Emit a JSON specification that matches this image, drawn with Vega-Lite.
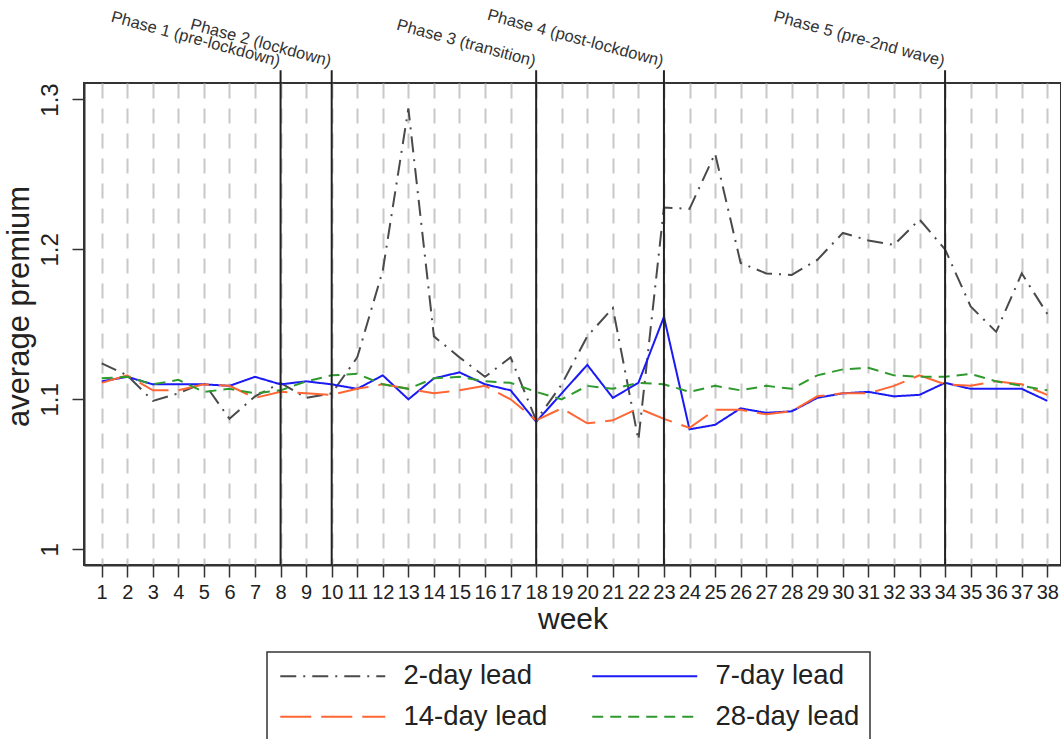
{
  "$schema": "https://vega.github.io/schema/vega-lite/v6.json",
  "width": 977,
  "height": 482,
  "autosize": {"type": "none"},
  "padding": {"left": 84, "top": 83, "right": 0, "bottom": 174},
  "background": "white",
  "config": {
    "font": "Liberation Sans",
    "view": {"stroke": "#333", "strokeWidth": 2},
    "legend": {"strokeWidth": 1.5}
  },
  "datasets": {
    "phases": [
      {"week": 8, "label": "Phase 1 (pre-lockdown)"},
      {"week": 10, "label": "Phase 2 (lockdown)"},
      {"week": 18, "label": "Phase 3 (transition)"},
      {"week": 23, "label": "Phase 4 (post-lockdown)"},
      {"week": 34, "label": "Phase 5 (pre-2nd wave)"}
    ],
    "series": [
      {"week": 1, "lead": "2-day lead", "premium": 1.124},
      {"week": 2, "lead": "2-day lead", "premium": 1.116},
      {"week": 3, "lead": "2-day lead", "premium": 1.099},
      {"week": 4, "lead": "2-day lead", "premium": 1.104},
      {"week": 5, "lead": "2-day lead", "premium": 1.111},
      {"week": 6, "lead": "2-day lead", "premium": 1.087},
      {"week": 7, "lead": "2-day lead", "premium": 1.102},
      {"week": 8, "lead": "2-day lead", "premium": 1.111},
      {"week": 9, "lead": "2-day lead", "premium": 1.101},
      {"week": 10, "lead": "2-day lead", "premium": 1.104},
      {"week": 11, "lead": "2-day lead", "premium": 1.128},
      {"week": 12, "lead": "2-day lead", "premium": 1.186},
      {"week": 13, "lead": "2-day lead", "premium": 1.294},
      {"week": 14, "lead": "2-day lead", "premium": 1.142},
      {"week": 15, "lead": "2-day lead", "premium": 1.128},
      {"week": 16, "lead": "2-day lead", "premium": 1.115},
      {"week": 17, "lead": "2-day lead", "premium": 1.128},
      {"week": 18, "lead": "2-day lead", "premium": 1.086},
      {"week": 19, "lead": "2-day lead", "premium": 1.110},
      {"week": 20, "lead": "2-day lead", "premium": 1.142},
      {"week": 21, "lead": "2-day lead", "premium": 1.161},
      {"week": 22, "lead": "2-day lead", "premium": 1.073},
      {"week": 23, "lead": "2-day lead", "premium": 1.228},
      {"week": 24, "lead": "2-day lead", "premium": 1.227},
      {"week": 25, "lead": "2-day lead", "premium": 1.264},
      {"week": 26, "lead": "2-day lead", "premium": 1.191},
      {"week": 27, "lead": "2-day lead", "premium": 1.184},
      {"week": 28, "lead": "2-day lead", "premium": 1.183},
      {"week": 29, "lead": "2-day lead", "premium": 1.193},
      {"week": 30, "lead": "2-day lead", "premium": 1.211},
      {"week": 31, "lead": "2-day lead", "premium": 1.206},
      {"week": 32, "lead": "2-day lead", "premium": 1.203},
      {"week": 33, "lead": "2-day lead", "premium": 1.220},
      {"week": 34, "lead": "2-day lead", "premium": 1.200},
      {"week": 35, "lead": "2-day lead", "premium": 1.162},
      {"week": 36, "lead": "2-day lead", "premium": 1.145},
      {"week": 37, "lead": "2-day lead", "premium": 1.184},
      {"week": 38, "lead": "2-day lead", "premium": 1.157},
      {"week": 1, "lead": "7-day lead", "premium": 1.112},
      {"week": 2, "lead": "7-day lead", "premium": 1.115},
      {"week": 3, "lead": "7-day lead", "premium": 1.110},
      {"week": 4, "lead": "7-day lead", "premium": 1.110},
      {"week": 5, "lead": "7-day lead", "premium": 1.110},
      {"week": 6, "lead": "7-day lead", "premium": 1.109},
      {"week": 7, "lead": "7-day lead", "premium": 1.115},
      {"week": 8, "lead": "7-day lead", "premium": 1.110},
      {"week": 9, "lead": "7-day lead", "premium": 1.112},
      {"week": 10, "lead": "7-day lead", "premium": 1.110},
      {"week": 11, "lead": "7-day lead", "premium": 1.107},
      {"week": 12, "lead": "7-day lead", "premium": 1.116},
      {"week": 13, "lead": "7-day lead", "premium": 1.100},
      {"week": 14, "lead": "7-day lead", "premium": 1.114},
      {"week": 15, "lead": "7-day lead", "premium": 1.118},
      {"week": 16, "lead": "7-day lead", "premium": 1.110},
      {"week": 17, "lead": "7-day lead", "premium": 1.106},
      {"week": 18, "lead": "7-day lead", "premium": 1.085},
      {"week": 19, "lead": "7-day lead", "premium": 1.104},
      {"week": 20, "lead": "7-day lead", "premium": 1.123},
      {"week": 21, "lead": "7-day lead", "premium": 1.101},
      {"week": 22, "lead": "7-day lead", "premium": 1.111},
      {"week": 23, "lead": "7-day lead", "premium": 1.155},
      {"week": 24, "lead": "7-day lead", "premium": 1.080},
      {"week": 25, "lead": "7-day lead", "premium": 1.083},
      {"week": 26, "lead": "7-day lead", "premium": 1.094},
      {"week": 27, "lead": "7-day lead", "premium": 1.091},
      {"week": 28, "lead": "7-day lead", "premium": 1.092},
      {"week": 29, "lead": "7-day lead", "premium": 1.101},
      {"week": 30, "lead": "7-day lead", "premium": 1.104},
      {"week": 31, "lead": "7-day lead", "premium": 1.105},
      {"week": 32, "lead": "7-day lead", "premium": 1.102},
      {"week": 33, "lead": "7-day lead", "premium": 1.103},
      {"week": 34, "lead": "7-day lead", "premium": 1.111},
      {"week": 35, "lead": "7-day lead", "premium": 1.107},
      {"week": 36, "lead": "7-day lead", "premium": 1.107},
      {"week": 37, "lead": "7-day lead", "premium": 1.107},
      {"week": 38, "lead": "7-day lead", "premium": 1.099},
      {"week": 1, "lead": "14-day lead", "premium": 1.111},
      {"week": 2, "lead": "14-day lead", "premium": 1.116},
      {"week": 3, "lead": "14-day lead", "premium": 1.106},
      {"week": 4, "lead": "14-day lead", "premium": 1.106},
      {"week": 5, "lead": "14-day lead", "premium": 1.110},
      {"week": 6, "lead": "14-day lead", "premium": 1.109},
      {"week": 7, "lead": "14-day lead", "premium": 1.101},
      {"week": 8, "lead": "14-day lead", "premium": 1.105},
      {"week": 9, "lead": "14-day lead", "premium": 1.104},
      {"week": 10, "lead": "14-day lead", "premium": 1.103},
      {"week": 11, "lead": "14-day lead", "premium": 1.107},
      {"week": 12, "lead": "14-day lead", "premium": 1.110},
      {"week": 13, "lead": "14-day lead", "premium": 1.107},
      {"week": 14, "lead": "14-day lead", "premium": 1.104},
      {"week": 15, "lead": "14-day lead", "premium": 1.106},
      {"week": 16, "lead": "14-day lead", "premium": 1.109},
      {"week": 17, "lead": "14-day lead", "premium": 1.100},
      {"week": 18, "lead": "14-day lead", "premium": 1.086},
      {"week": 19, "lead": "14-day lead", "premium": 1.094},
      {"week": 20, "lead": "14-day lead", "premium": 1.084},
      {"week": 21, "lead": "14-day lead", "premium": 1.086},
      {"week": 22, "lead": "14-day lead", "premium": 1.094},
      {"week": 23, "lead": "14-day lead", "premium": 1.087},
      {"week": 24, "lead": "14-day lead", "premium": 1.081},
      {"week": 25, "lead": "14-day lead", "premium": 1.093},
      {"week": 26, "lead": "14-day lead", "premium": 1.093},
      {"week": 27, "lead": "14-day lead", "premium": 1.090},
      {"week": 28, "lead": "14-day lead", "premium": 1.092},
      {"week": 29, "lead": "14-day lead", "premium": 1.102},
      {"week": 30, "lead": "14-day lead", "premium": 1.104},
      {"week": 31, "lead": "14-day lead", "premium": 1.104},
      {"week": 32, "lead": "14-day lead", "premium": 1.109},
      {"week": 33, "lead": "14-day lead", "premium": 1.116},
      {"week": 34, "lead": "14-day lead", "premium": 1.110},
      {"week": 35, "lead": "14-day lead", "premium": 1.109},
      {"week": 36, "lead": "14-day lead", "premium": 1.112},
      {"week": 37, "lead": "14-day lead", "premium": 1.110},
      {"week": 38, "lead": "14-day lead", "premium": 1.103},
      {"week": 1, "lead": "28-day lead", "premium": 1.114},
      {"week": 2, "lead": "28-day lead", "premium": 1.115},
      {"week": 3, "lead": "28-day lead", "premium": 1.110},
      {"week": 4, "lead": "28-day lead", "premium": 1.113},
      {"week": 5, "lead": "28-day lead", "premium": 1.105},
      {"week": 6, "lead": "28-day lead", "premium": 1.107},
      {"week": 7, "lead": "28-day lead", "premium": 1.104},
      {"week": 8, "lead": "28-day lead", "premium": 1.106},
      {"week": 9, "lead": "28-day lead", "premium": 1.112},
      {"week": 10, "lead": "28-day lead", "premium": 1.116},
      {"week": 11, "lead": "28-day lead", "premium": 1.117},
      {"week": 12, "lead": "28-day lead", "premium": 1.110},
      {"week": 13, "lead": "28-day lead", "premium": 1.107},
      {"week": 14, "lead": "28-day lead", "premium": 1.114},
      {"week": 15, "lead": "28-day lead", "premium": 1.115},
      {"week": 16, "lead": "28-day lead", "premium": 1.112},
      {"week": 17, "lead": "28-day lead", "premium": 1.111},
      {"week": 18, "lead": "28-day lead", "premium": 1.105},
      {"week": 19, "lead": "28-day lead", "premium": 1.100},
      {"week": 20, "lead": "28-day lead", "premium": 1.109},
      {"week": 21, "lead": "28-day lead", "premium": 1.107},
      {"week": 22, "lead": "28-day lead", "premium": 1.111},
      {"week": 23, "lead": "28-day lead", "premium": 1.110},
      {"week": 24, "lead": "28-day lead", "premium": 1.105},
      {"week": 25, "lead": "28-day lead", "premium": 1.109},
      {"week": 26, "lead": "28-day lead", "premium": 1.106},
      {"week": 27, "lead": "28-day lead", "premium": 1.109},
      {"week": 28, "lead": "28-day lead", "premium": 1.107},
      {"week": 29, "lead": "28-day lead", "premium": 1.116},
      {"week": 30, "lead": "28-day lead", "premium": 1.120},
      {"week": 31, "lead": "28-day lead", "premium": 1.121},
      {"week": 32, "lead": "28-day lead", "premium": 1.116},
      {"week": 33, "lead": "28-day lead", "premium": 1.115},
      {"week": 34, "lead": "28-day lead", "premium": 1.115},
      {"week": 35, "lead": "28-day lead", "premium": 1.117},
      {"week": 36, "lead": "28-day lead", "premium": 1.112},
      {"week": 37, "lead": "28-day lead", "premium": 1.109},
      {"week": 38, "lead": "28-day lead", "premium": 1.106}
    ]
  },
  "encoding": {
    "x": {
      "field": "week",
      "type": "quantitative",
      "title": "week",
      "scale": {"domain": [0.308, 38.536], "nice": false, "zero": false},
      "axis": {
        "title": "week",
        "values": [1,2,3,4,5,6,7,8,9,10,11,12,13,14,15,16,17,18,19,20,21,22,23,24,25,26,27,28,29,30,31,32,33,34,35,36,37,38],
        "tickCount": 38,
        "format": "d",
        "grid": true,
        "gridDash": [15, 10],
        "gridColor": "#c8c8c8",
        "gridWidth": 2,
        "domainColor": "#333",
        "domainWidth": 2,
        "tickColor": "#333",
        "tickSize": 12,
        "tickWidth": 1.5,
        "labelFontSize": 20,
        "labelColor": "#222",
        "labelPadding": 5,
        "labelFlush": false,
        "labelOverlap": false,
        "labelBound": false,
        "titleFontSize": 30,
        "titleFontWeight": "normal",
        "titleColor": "#222",
        "titlePadding": 2
      }
    }
  },
  "layer": [
    {
      "data": {"name": "series"},
      "mark": {"type": "line", "strokeWidth": 2},
      "encoding": {
        "y": {
          "field": "premium",
          "type": "quantitative",
          "title": "average premium",
          "scale": {"domain": [0.9895, 1.311], "nice": false, "zero": false},
          "axis": {
            "title": "average premium",
            "values": [1, 1.1, 1.2, 1.3],
            "format": "~g",
            "grid": false,
            "labelAngle": -90,
            "labelAlign": "center",
            "labelBaseline": "bottom",
            "labelFontSize": 24,
            "labelColor": "#222",
            "labelPadding": 10,
            "labelFlush": false,
            "domainColor": "#333",
            "domainWidth": 2,
            "tickColor": "#333",
            "tickSize": 12,
            "tickWidth": 1.5,
            "titleFontSize": 31,
            "titleFontWeight": "normal",
            "titleColor": "#222",
            "titlePadding": 3,
            "titleY": 223
          }
        },
        "color": {
          "field": "lead",
          "type": "nominal",
          "scale": {
            "domain": ["2-day lead", "7-day lead", "14-day lead", "28-day lead"],
            "range": ["#4a4a4a", "#1a1af5", "#ff6633", "#2e9a2e"]
          },
          "legend": {
            "title": null,
            "orient": "none",
            "direction": "horizontal",
            "legendX": 183,
            "legendY": 569,
            "columns": 2,
            "symbolType": "M-1,0H9",
            "symbolSize": 441,
            "symbolStrokeWidth": 2,
            "labelFontSize": 27.5,
            "labelColor": "#222",
            "labelOffset": 99,
            "labelLimit": 400,
            "columnPadding": 40,
            "rowPadding": 12,
            "padding": 10,
            "strokeColor": "#333",
            "fillColor": "white"
          }
        },
        "strokeDash": {
          "field": "lead",
          "type": "nominal",
          "scale": {
            "domain": ["2-day lead", "7-day lead", "14-day lead", "28-day lead"],
            "range": [[16, 7, 2, 7], [1, 0], [31, 10], [11, 7]]
          }
        }
      }
    },
    {
      "data": {"name": "phases"},
      "mark": {"type": "rule", "color": "#222", "strokeWidth": 2},
      "encoding": {
        "y": {"datum": 0.9895, "type": "quantitative", "title": "average premium"},
        "y2": {"datum": 1.3195}
      }
    },
    {
      "data": {"name": "phases"},
      "mark": {"type": "text", "angle": 15, "align": "right", "baseline": "bottom", "fontSize": 16.5, "color": "#333", "dx": -3},
      "encoding": {
        "y": {"datum": 1.3195, "type": "quantitative", "title": "average premium"},
        "text": {"field": "label"}
      }
    }
  ]
}
